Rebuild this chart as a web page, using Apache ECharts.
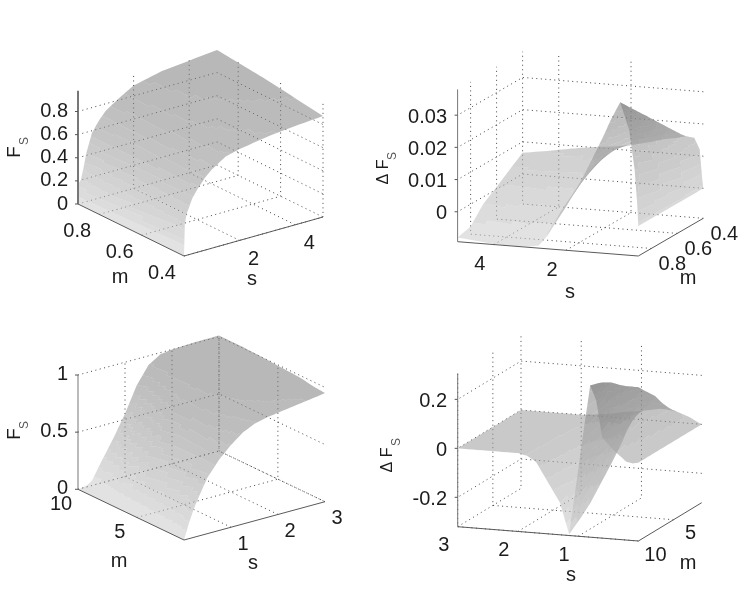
<!DOCTYPE html>
<html>
<head>
<meta charset="utf-8">
<style>html,body{margin:0;background:#fff}#chart{width:747px;height:590px}</style>
<script src="https://cdn.jsdelivr.net/npm/echarts@6/dist/echarts.min.js"></script>
</head>
<body>
<div id="chart"></div>
<script>
// values, rows follow m, columns follow s
const p1S = [0, .03, .1, .2, .3, .5, .75, 1, 1.5, 2, 3, 4, 5]
const p1M = [.4, .5, .6, .7, .8, .9]
const p1F = [
  [0, .28, .36, .42, .48, .55, .625, .68, .76, .79, .83, .855, .873],
  [0, .26, .34, .40, .47, .56, .64, .70, .78, .82, .865, .885, .90],
  [0, .24, .31, .38, .46, .57, .65, .72, .80, .85, .89, .915, .93],
  [0, .22, .28, .36, .45, .575, .66, .73, .81, .865, .92, .94, .955],
  [0, .20, .24, .33, .43, .58, .665, .735, .815, .88, .935, .955, .975],
  [0, .18, .20, .30, .42, .58, .67, .74, .82, .89, .945, .97, .995]
]
const p2S = [0, .03, .1, .25, .5, .75, 1, 1.5, 2, 2.5, 2.75, 3, 3.3, 3.7, 4.3, 5]
const p2M = [.4, .5, .6, .7, .8, .9]
const p2F = [
  [0, .003, .0120, .0155, .0157, .0150, .0145, .0130, .0116, .0108, .0105, .0102, .0097, .0090, .0078, .0066],
  [0, .003, .0130, .0175, .0201, .0190, .0170, .0150, .0134, .0095, .0072, .0045, .0044, .0042, .0040, .0037],
  [0, .004, .0140, .0200, .0246, .0225, .0200, .0170, .0132, .0070, .0030, -.0005, -.0005, -.0003, .0003, .0007],
  [0, .005, .0150, .0230, .0291, .0260, .0225, .0170, .0114, .0035, -.0015, -.0048, -.0048, -.0042, -.0030, -.0021],
  [0, .006, .0160, .0260, .0335, .0295, .0245, .0160, .0086, .0000, -.0052, -.0080, -.0082, -.0078, -.0072, -.0069],
  [0, .0067, .0173, .0295, .038, .0326, .0262, .0145, .0042, -.0050, -.0085, -.0090, -.0092, -.0093, -.0088, -.008]
]
const p3S = [0, .1, .2, .3, .5, .75, 1, 1.25, 1.5, 1.75, 2, 2.5, 3]
const p3M = [1, 2, 3, 4.5, 6, 8, 10]
const p3F = [
  [0, .13, .24, .33, .49, .62, .72, .80, .85, .875, .89, .92, .95],
  [0, .06, .16, .27, .47, .64, .75, .83, .87, .90, .92, .945, .96],
  [0, .04, .12, .22, .44, .65, .78, .86, .91, .93, .95, .97, .98],
  [0, .03, .09, .18, .41, .66, .80, .89, .93, .955, .97, .985, .99],
  [0, .02, .07, .15, .38, .63, .80, .90, .94, .965, .98, .995, 1],
  [0, .01, .04, .09, .28, .50, .68, .84, .94, .98, 1, 1.005, 1.01],
  [0, .005, .015, .045, .19, .36, .55, .77, .92, .985, 1, 1.01, 1.01]
]
const p4S = [0, .1, .2, .4, .6, .7, .8, .9, 1, 1.15, 1.3, 1.4, 1.5, 1.6, 1.7, 1.85, 2, 2.5, 3]
const p4M = [1, 2.5, 4, 5.5, 7, 8.5, 10]
const p4F = [
  [0, .012, .025, .043, .05, .05, .045, .04, .035, .03, .025, .02, .015, .011, .008, .004, 0, 0, 0],
  [0, .02, .045, .085, .13, .14, .125, .09, .02, -.07, -.045, -.035, -.025, -.015, -.008, -.003, 0, 0, 0],
  [0, .015, .04, .09, .16, .19, .18, .11, .005, -.13, -.09, -.07, -.05, -.03, -.015, -.005, 0, 0, 0],
  [0, .01, .03, .08, .16, .22, .22, .13, -.005, -.185, -.13, -.10, -.075, -.045, -.02, -.006, 0, 0, 0],
  [0, .005, .02, .065, .15, .25, .26, .15, -.015, -.24, -.155, -.12, -.09, -.055, -.025, -.007, 0, 0, 0],
  [0, 0, .01, .05, .12, .26, .285, .14, -.03, -.28, -.17, -.135, -.10, -.062, -.028, -.008, 0, 0, 0],
  [0, -.005, 0, .04, .09, .24, .30, .13, -.05, -.315, -.19, -.15, -.11, -.07, -.03, -.008, 0, 0, 0]
]

const p1STicks = ['2', '4']
const p1MTicks = ['0.4', '0.6', '0.8']
const p1ZTicks = ['0', '0.2', '0.4', '0.6', '0.8']
const p2STicks = ['2', '4']
const p2MTicks = ['0.4', '0.6', '0.8']
const p2ZTicks = ['0', '0.01', '0.02', '0.03']
const p3STicks = ['1', '2', '3']
const p3MTicks = ['5', '10']
const p3ZTicks = ['0', '0.5', '1']
const p4STicks = ['1', '2', '3']
const p4MTicks = ['5', '10']
const p4ZTicks = ['-0.2', '0', '0.2']

// view of each box: corner at (s0,m0,z0) and the pixel vector of each axis
const panels = [
  {
    S: p1S, M: p1M, F: p1F, sTicks: p1STicks, mTicks: p1MTicks, zTicks: p1ZTicks,
    s: [0, 5], m: [.4, .9], z: [0, .98],
    origin: [184, 256], sVec: [139, -39], mVec: [-106, -52], zVec: [0, -113.3],
    sWall: .9, mWall: 5, zAt: [0, .9], sAt: .4, mAt: 0,
    sOff: [14, 19], mOff: [-22, 17], zRight: 68, zDy: 0, zWidth: 2,
    sTitle: [252, 279], mTitle: [120, 277], zTitle: 'F', zTitlePos: [15, 152], subPos: [25, 141]
  },
  {
    S: p2S, M: p2M, F: p2F, sTicks: p2STicks, mTicks: p2MTicks, zTicks: p2ZTicks,
    s: [0, 5], m: [.4, .9], z: [-.0093, .038],
    origin: [703.3, 218.3], sVec: [-180.7, -14.3], mVec: [-65, 37.7], zVec: [0, -152.3],
    sWall: .4, mWall: 5, zAt: [5, .9], sAt: .9, mAt: 0,
    sOff: [-14, 20], mOff: [21, 16], zRight: 447, zDy: 2, zWidth: 1,
    sTitle: [570, 292], mTitle: [688, 278], zTitle: 'Δ F', zTitlePos: [384, 172], subPos: [393, 156]
  },
  {
    S: p3S, M: p3M, F: p3F, sTicks: p3STicks, mTicks: p3MTicks, zTicks: p3ZTicks,
    s: [0, 3], m: [1, 10], z: [0, 1],
    origin: [184, 540], sVec: [141, -38.3], mVec: [-106, -50.7], zVec: [0, -114.3],
    sWall: 10, mWall: 3, zAt: [0, 10], sAt: 1, mAt: 0,
    sOff: [12, 17], mOff: [-17, 15], zRight: 68, zDy: -1, zWidth: 1,
    sTitle: [253, 563], mTitle: [119, 561], zTitle: 'F', zTitlePos: [15, 434], subPos: [25, 425]
  },
  {
    S: p4S, M: p4M, F: p4F, sTicks: p4STicks, mTicks: p4MTicks, zTicks: p4ZTicks,
    s: [0, 3], m: [1, 10], z: [-.32, .306],
    origin: [701.7, 502.7], sVec: [-180.7, -14.3], mVec: [-63.3, 38.3], zVec: [0, -153.3],
    sWall: 1, mWall: 3, zAt: [3, 10], sAt: 10, mAt: 0,
    sOff: [-14, 19], mOff: [17, 14], zRight: 447, zDy: 2, zWidth: 1,
    sTitle: [571, 575], mTitle: [688, 563], zTitle: 'Δ F', zTitlePos: [388, 460], subPos: [397, 442]
  }
]

const FONT = '"Liberation Sans", Arial, sans-serif'
const ALPHA = .55
const BANDS = 14
const SUB = 6

function project(p, s, m, z) {
  const a = (s - p.s[0]) / (p.s[1] - p.s[0])
  const b = (m - p.m[0]) / (p.m[1] - p.m[0])
  const c = (z - p.z[0]) / (p.z[1] - p.z[0])
  return [
    p.origin[0] + a * p.sVec[0] + b * p.mVec[0] + c * p.zVec[0],
    p.origin[1] + a * p.sVec[1] + b * p.mVec[1] + c * p.zVec[1]
  ]
}

function lineEl(pts, stroke, width, dash) {
  return {
    type: 'polyline',
    silent: true,
    shape: { points: pts },
    style: { stroke: stroke, lineWidth: width, lineDash: dash || null, fill: null }
  }
}

function textEl(str, x, y, align, size, color, rot) {
  return {
    type: 'text',
    silent: true,
    x: x,
    y: y,
    rotation: rot || 0,
    style: {
      text: str, fill: color || '#1c1c1c', font: size + 'px ' + FONT,
      align: align || 'center', verticalAlign: 'middle'
    }
  }
}

function bandFill(band) {
  // grey from the low end of the z range to the top, as seen through the transparency
  const t = Math.pow(band / (BANDS - 1), .8)
  const seen = 226 - 42 * t
  const g = Math.round((seen - 255 * (1 - ALPHA)) / ALPHA)
  return 'rgba(' + g + ',' + g + ',' + g + ',' + ALPHA + ')'
}

function surfaceEls(p, coord) {
  const groups = {}
  const pt = (s, m, z) => coord(project(p, s, m, z))
  for (let j = 0; j < p.M.length - 1; j++) {
    for (let i = 0; i < p.S.length - 1; i++) {
      for (let v = 0; v < SUB; v++) {
        for (let u = 0; u < SUB; u++) {
          const corners = [[u, v], [u + 1, v], [u + 1, v + 1], [u, v + 1]].map(c => {
            const a = c[0] / SUB
            const b = c[1] / SUB
            const s = p.S[i] + a * (p.S[i + 1] - p.S[i])
            const m = p.M[j] + b * (p.M[j + 1] - p.M[j])
            const z = (1 - b) * ((1 - a) * p.F[j][i] + a * p.F[j][i + 1]) +
              b * ((1 - a) * p.F[j + 1][i] + a * p.F[j + 1][i + 1])
            return { q: pt(s, m, z), z: z }
          })
          const q = corners.map(c => c.q)
          const zMean = corners.reduce((acc, c) => acc + c.z, 0) / 4
          const t = Math.min(1, Math.max(0, (zMean - p.z[0]) / (p.z[1] - p.z[0])))
          const band = Math.min(BANDS - 1, Math.floor(t * BANDS))
          let area = 0
          for (let k = 0; k < 4; k++) {
            const n = q[(k + 1) % 4]
            area += q[k][0] * n[1] - n[0] * q[k][1]
          }
          const key = (area > 0 ? 'a' : 'b') + band
          if (!groups[key]) {
            groups[key] = { band: band, d: [], x0: 1e9, y0: 1e9, x1: -1e9, y1: -1e9 }
          }
          const g = groups[key]
          q.forEach((c, k) => {
            g.d.push((k ? 'L' : 'M') + c[0].toFixed(2) + ' ' + c[1].toFixed(2))
            g.x0 = Math.min(g.x0, c[0])
            g.y0 = Math.min(g.y0, c[1])
            g.x1 = Math.max(g.x1, c[0])
            g.y1 = Math.max(g.y1, c[1])
          })
          g.d.push('Z')
        }
      }
    }
  }
  return Object.keys(groups).map(key => {
    const g = groups[key]
    return {
      type: 'path',
      silent: true,
      shape: {
        pathData: g.d.join(''), layout: 'cover',
        x: g.x0, y: g.y0, width: g.x1 - g.x0, height: g.y1 - g.y0
      },
      style: { fill: bandFill(g.band) }
    }
  })
}

function panelRender(p) {
  return function(params, api) {
    const coord = c => api.coord(c)
    const at = (s, m, z) => coord(project(p, s, m, z))
    const kids = []
    const dash = [1, 3.5]
    const grid = '#444'
    const z0 = p.z[0]
    const z1 = p.z[1]
    const sOther = p.mWall === p.s[0] ? p.s[1] : p.s[0]
    const mOther = p.sWall === p.m[0] ? p.m[1] : p.m[0]

    // walls and floor
    p.zTicks.forEach(t => {
      const z = +t
      kids.push(lineEl([at(sOther, p.sWall, z), at(p.mWall, p.sWall, z), at(p.mWall, mOther, z)], grid, 1, dash))
    })
    p.sTicks.forEach(t => {
      const s = +t
      kids.push(lineEl([at(s, p.sAt, z0), at(s, p.sWall, z0), at(s, p.sWall, z1)], grid, 1, dash))
    })
    p.mTicks.forEach(t => {
      const m = +t
      kids.push(lineEl([at(p.mAt, m, z0), at(p.mWall, m, z0), at(p.mWall, m, z1)], grid, 1, dash))
    })

    surfaceEls(p, coord).forEach(el => kids.push(el))

    // axes with their short ticks
    const sA = at(p.s[0], p.sAt, z0)
    const sB = at(p.s[1], p.sAt, z0)
    const mA = at(p.mAt, p.m[0], z0)
    const mB = at(p.mAt, p.m[1], z0)
    kids.push(lineEl([sA, sB], '#5a5a5a', 1))
    kids.push(lineEl([mA, mB], '#5a5a5a', 1))
    kids.push(lineEl([at(p.zAt[0], p.zAt[1], z0), at(p.zAt[0], p.zAt[1], z1)], '#777', p.zWidth))

    p.zTicks.forEach(t => {
      const c = at(p.zAt[0], p.zAt[1], +t)
      kids.push(lineEl([c, [c[0] - 3, c[1]]], '#555', 1))
      kids.push(textEl(t, p.zRight, c[1] + p.zDy, 'right', 20))
    })
    p.sTicks.forEach(t => {
      const c = at(+t, p.sAt, z0)
      kids.push(textEl(t, c[0] + p.sOff[0], c[1] + p.sOff[1], 'center', 20))
    })
    p.mTicks.forEach(t => {
      const c = at(p.mAt, +t, z0)
      kids.push(textEl(t, c[0] + p.mOff[0], c[1] + p.mOff[1], 'center', 20))
    })

    kids.push(textEl('s', p.sTitle[0], p.sTitle[1], 'center', 20))
    kids.push(textEl('m', p.mTitle[0], p.mTitle[1], 'center', 20))
    kids.push(textEl(p.zTitle, p.zTitlePos[0], p.zTitlePos[1], 'center', p.zTitle === 'F' ? 19 : 16, '#1c1c1c', Math.PI / 2))
    kids.push(textEl('S', p.subPos[0], p.subPos[1], 'center', 12, '#555', Math.PI / 2))

    return { type: 'group', children: kids }
  }
}

const chart = echarts.init(document.getElementById('chart'))
chart.setOption({
  animation: false,
  backgroundColor: '#fff',
  grid: { left: 0, right: 0, top: 0, bottom: 0 },
  xAxis: { type: 'value', min: 0, max: 747, show: false },
  yAxis: { type: 'value', min: 0, max: 590, inverse: true, show: false },
  series: panels.map(p => ({
    type: 'custom',
    coordinateSystem: 'cartesian2d',
    clip: false,
    silent: true,
    data: [[0, 0]],
    renderItem: panelRender(p)
  }))
})
</script>
</body>
</html>
